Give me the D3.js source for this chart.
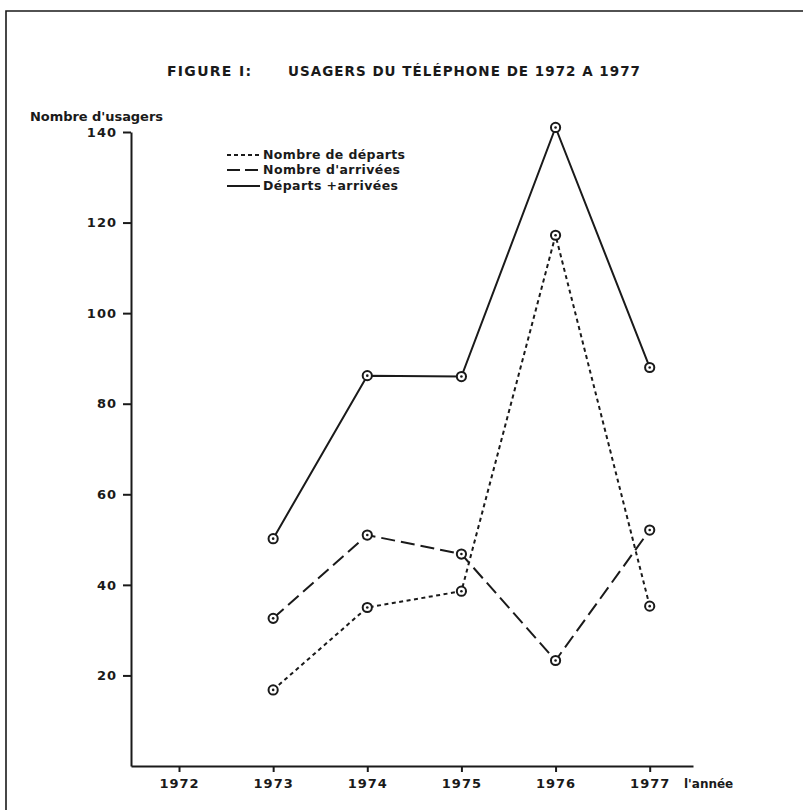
<!DOCTYPE html>
<html>
<head>
<meta charset="utf-8">
<script src="https://cdn.jsdelivr.net/npm/d3@7"></script>
<style>
  html, body { margin: 0; padding: 0; background: #ffffff; }
  svg { display: block; }
  text { font-family: "DejaVu Sans", sans-serif; fill: #1a1a1a; }
</style>
</head>
<body>
<svg id="chart" width="803" height="810"></svg>
<script>
// ---- data ----
const years = [1973, 1974, 1975, 1976, 1977];
const xTickYears = [1972, 1973, 1974, 1975, 1976, 1977];
const yTickValues = [20, 40, 60, 80, 100, 120, 140];
const departs = [16.8, 35, 38.6, 117.2, 35.3];
const arrivees = [32.6, 51, 46.8, 23.3, 52.1];
const total = [50.2, 86.2, 86, 141, 88];
const seriesNames = ["Nombre de départs", "Nombre d'arrivées", "Départs +arrivées"];
const titleLeft = "FIGURE I:";
const titleRight = "USAGERS DU TÉLÉPHONE DE 1972 A 1977";
const yLabel = "Nombre d'usagers";
const xLabel = "l'année";

const ink = "#1a1a1a";
const svg = d3.select("#chart");

// scales
const x = d3.scaleLinear().domain([1971.49, 1977.46]).range([131, 693]);
const y = d3.scaleLinear().domain([0, 140]).range([766, 132]);

// frame
svg.append("path")
  .attr("d", "M6,815 L6,11 L810,11")
  .attr("fill", "none").attr("stroke", ink).attr("stroke-width", 1.6);

// title
svg.append("text").attr("x", 167).attr("y", 76)
  .attr("font-size", 14).attr("font-weight", "bold")
  .attr("textLength", 84).attr("lengthAdjust", "spacing")
  .text(titleLeft);
svg.append("text").attr("x", 288).attr("y", 76)
  .attr("font-size", 13.5).attr("font-weight", "bold")
  .attr("textLength", 352).attr("lengthAdjust", "spacing")
  .text(titleRight);

// y axis
const yAxis = svg.append("g").attr("transform", "translate(131,0)")
  .call(d3.axisLeft(y).tickValues(yTickValues).tickSize(8).tickSizeOuter(0).tickPadding(6));
yAxis.select(".domain").attr("stroke", ink).attr("stroke-width", 2);
yAxis.selectAll(".tick line").attr("stroke", ink).attr("stroke-width", 2);
yAxis.selectAll(".tick text").attr("font-size", 13).attr("font-weight", "bold")
  .attr("font-family", "DejaVu Sans, sans-serif").attr("fill", ink).attr("letter-spacing", 1);

// x axis
const xAxis = svg.append("g").attr("transform", "translate(0,766)")
  .call(d3.axisBottom(x).tickValues(xTickYears).tickFormat(d3.format("d")).tickSize(6).tickSizeOuter(0).tickPadding(7));
xAxis.select(".domain").attr("stroke", ink).attr("stroke-width", 2);
xAxis.selectAll(".tick line").attr("stroke", ink).attr("stroke-width", 2);
xAxis.selectAll(".tick text").attr("font-size", 13).attr("font-weight", "bold")
  .attr("font-family", "DejaVu Sans, sans-serif").attr("fill", ink).attr("letter-spacing", 1);

// axis titles
svg.append("text").attr("x", 30).attr("y", 121)
  .attr("font-size", 13).attr("font-weight", "bold")
  .attr("textLength", 133).attr("lengthAdjust", "spacing")
  .text(yLabel);
svg.append("text").attr("x", 684).attr("y", 788)
  .attr("font-size", 12).attr("font-weight", "bold")
  .text(xLabel);

// series
const series = [
  { name: seriesNames[0], values: departs, dash: "4,3.5", width: 2 },
  { name: seriesNames[1], values: arrivees, dash: "14,6", width: 2 },
  { name: seriesNames[2], values: total, dash: null, width: 2 }
];

const line = d3.line().x(d => x(d.year)).y(d => y(d.v));

series.forEach(s => {
  const pts = years.map((yr, i) => ({ year: yr, v: s.values[i] }));
  svg.append("path").datum(pts)
    .attr("d", line)
    .attr("fill", "none")
    .attr("stroke", ink)
    .attr("stroke-width", s.width)
    .attr("stroke-dasharray", s.dash);
});

series.forEach(s => {
  const pts = years.map((yr, i) => ({ year: yr, v: s.values[i] }));
  const g = svg.append("g");
  g.selectAll("circle.ring").data(pts).join("circle")
    .attr("class", "ring")
    .attr("cx", d => x(d.year)).attr("cy", d => y(d.v)).attr("r", 4.6)
    .attr("fill", "#ffffff").attr("stroke", ink).attr("stroke-width", 2);
  g.selectAll("circle.dot").data(pts).join("circle")
    .attr("class", "dot")
    .attr("cx", d => x(d.year)).attr("cy", d => y(d.v)).attr("r", 1.3)
    .attr("fill", ink);
});

// legend
const legendRows = [159, 174, 190];
const lg = svg.append("g");
series.forEach((s, i) => {
  lg.append("line")
    .attr("x1", 227).attr("x2", 260)
    .attr("y1", legendRows[i] - 4).attr("y2", legendRows[i] - 4)
    .attr("stroke", ink).attr("stroke-width", 2)
    .attr("stroke-dasharray", i === 0 ? "4,3" : (i === 1 ? "13,5" : null));
  lg.append("text")
    .attr("x", 263).attr("y", legendRows[i])
    .attr("font-size", 12.5).attr("font-weight", "bold")
    .attr("textLength", [142, 137, 135][i]).attr("lengthAdjust", "spacing")
    .text(s.name);
});
</script>
</body>
</html>
